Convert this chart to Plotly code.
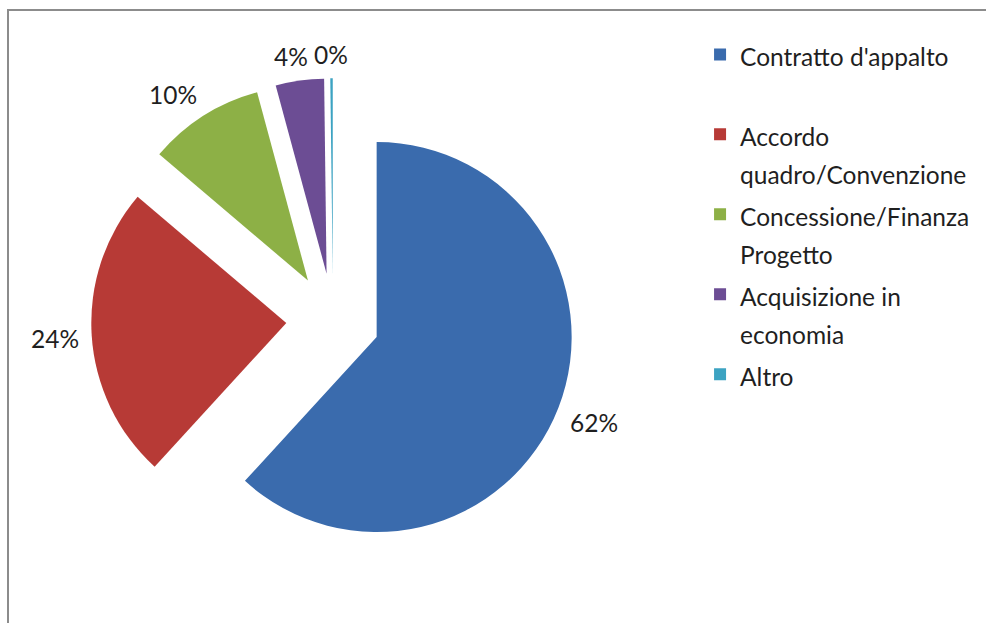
import math
import plotly.graph_objects as go

# Share of procedures by contract type (percent)
categories = [
    "Contratto d'appalto",
    "Accordo quadro/Convenzione",
    "Concessione/Finanza Progetto",
    "Acquisizione in economia",
    "Altro",
]
legend_text = [
    ["Contratto d'appalto", ""],
    ["Accordo", "quadro/Convenzione"],
    ["Concessione/Finanza", "Progetto"],
    ["Acquisizione in", "economia"],
    ["Altro", ""],
]
values = [61.8, 24.4, 9.6, 4.0, 0.2]
colors = ["#3A6BAD", "#B73A36", "#8DB046", "#6C4D94", "#3CA3C2"]

W, H = 986, 623
FONT = "Lato"
TEXT_SIZE = 24.5
TEXT_COLOR = "#1f1f1f"
PULL = 0.24
DOMAIN_X = [0.0925, 0.583]
DOMAIN_Y = [0.098, 0.8745]


def legend_label(lines):
    return "<br>".join(
        f"<span style='font-size:{TEXT_SIZE}px'>{ln}</span>" if ln else "" for ln in lines
    )


def clamp(t):
    return max(-1.0, min(1.0, t))


labels = [legend_label(l) for l in legend_text]

fig = go.Figure(
    go.Pie(
        labels=labels,
        values=values,
        sort=False,
        direction="clockwise",
        rotation=0,
        pull=[PULL] * len(values),
        marker=dict(colors=colors, line=dict(width=0)),
        textinfo="none",
        domain=dict(x=DOMAIN_X, y=DOMAIN_Y),
        automargin=False,
        hovertext=categories,
        hoverinfo="text+percent",
    )
)

# Percentage labels just outside each (pulled) slice, along its mid-angle.
# Pie geometry follows plotly's own sizing: r = min(box)/2 / (1 + max pull).
box_w = W * (DOMAIN_X[1] - DOMAIN_X[0])
box_h = H * (DOMAIN_Y[1] - DOMAIN_Y[0])
radius = min(box_w, box_h) / 2 / (1 + PULL)
cx = W * sum(DOMAIN_X) / 2
cy = H * sum(DOMAIN_Y) / 2          # measured from the bottom
total = sum(values)
gap, half_h = 14, 10
start = 0.0
for v in values:
    sweep = 360 * v / total
    mid = math.radians(start + sweep / 2)
    start += sweep
    dx, dy = math.sin(mid), math.cos(mid)
    text = f"{round(100 * v / total)}%"
    half_w = 0.31 * TEXT_SIZE * len(text)
    dist = PULL * radius + radius + gap
    # shift the text box away from the slice edge, depending on direction
    px = cx + dist * dx + half_w * clamp(3 * dx)
    py = cy + dist * dy + half_h * clamp(3 * dy)
    fig.add_annotation(
        x=px / W, y=py / H,
        xref="paper", yref="paper", text=text, showarrow=False,
        xanchor="center", yanchor="middle",
        font=dict(family=FONT, size=TEXT_SIZE, color=TEXT_COLOR),
    )

# Chart frame (top and left edges visible)
fig.add_shape(
    type="rect", xref="paper", yref="paper",
    x0=8 / W, x1=1.05, y0=-0.05, y1=1 - 10 / H,
    line=dict(color="#8c8c8c", width=2), fillcolor="rgba(0,0,0,0)",
)

fig.update_layout(
    width=W,
    height=H,
    margin=dict(l=0, r=0, t=0, b=0, autoexpand=False),
    paper_bgcolor="white",
    plot_bgcolor="white",
    font=dict(family=FONT, color=TEXT_COLOR),
    showlegend=True,
    legend=dict(
        x=0.71, xanchor="left",
        y=0.954, yanchor="top",
        valign="top",
        font=dict(family=FONT, size=29.6, color=TEXT_COLOR),
        bgcolor="rgba(0,0,0,0)",
        traceorder="normal",
    ),
)

fig.write_html("out.html")
